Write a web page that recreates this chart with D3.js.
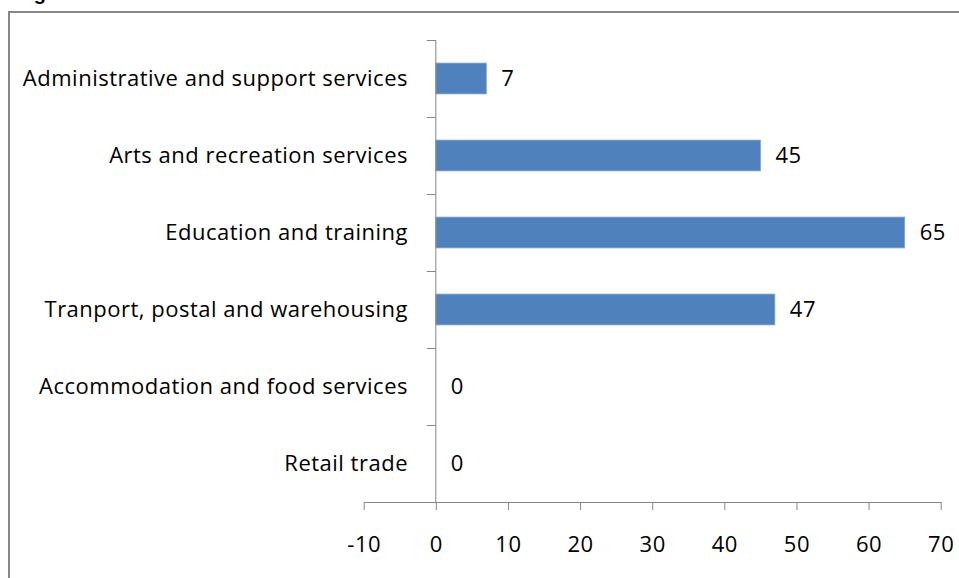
<!DOCTYPE html>
<html>
<head>
<meta charset="utf-8">
<script src="https://cdn.jsdelivr.net/npm/d3@7/dist/d3.min.js"></script>
<style>
  html, body { margin: 0; padding: 0; background: #fff; }
  svg { display: block; }
  .lbl { font-family: "Open Sans", Lato, sans-serif; font-size: 22px; letter-spacing: 0.5px; fill: #000; }
</style>
</head>
<body>
<svg id="chart" width="959" height="578"></svg>
<script>
// Industry categories, top to bottom
const categories = [
  "Administrative and support services",
  "Arts and recreation services",
  "Education and training",
  "Tranport, postal and warehousing",
  "Accommodation and food services",
  "Retail trade"
];
// Values per category
const values = [7, 45, 65, 47, 0, 0];
// Value axis ticks
const xTicks = [-10, 0, 10, 20, 30, 40, 50, 60, 70];

const axisColor = "#868686";
const barColor = "#4F81BD";

const svg = d3.select("#chart");

// Title line above the chart frame (runs off the top edge)
svg.append("text")
  .attr("x", 16).attr("y", 0)
  .attr("font-family", "Liberation Sans, Arial, sans-serif")
  .attr("font-weight", "bold")
  .attr("font-size", 20)
  .attr("fill", "#000")
  .text("Figure");

// Chart frame
svg.append("rect")
  .attr("x", 9).attr("y", 12)
  .attr("width", 980).attr("height", 600)
  .attr("fill", "#fff")
  .attr("stroke", axisColor)
  .attr("stroke-width", 2);

const plot = { left: 363.7, right: 940.7, top: 40, bottom: 502 };

const x = d3.scaleLinear()
  .domain([d3.min(xTicks), d3.max(xTicks)])
  .range([plot.left, plot.right]);

const y = d3.scaleBand()
  .domain(categories)
  .range([plot.top, plot.bottom])
  .paddingInner(0.6)
  .paddingOuter(0.3);

// Category boundaries for the tick marks on the category axis
const yEdge = d3.scaleLinear()
  .domain([0, categories.length])
  .range([plot.top, plot.bottom]);

// Bars
svg.append("g")
  .selectAll("rect")
  .data(values)
  .join("rect")
  .attr("x", d => x(Math.min(0, d)))
  .attr("y", (d, i) => y(categories[i]))
  .attr("width", d => Math.abs(x(d) - x(0)))
  .attr("height", y.bandwidth())
  .attr("fill", barColor)
  .attr("stroke", d => d ? "#7FA1CF" : "none")
  .attr("stroke-width", 0.8);

// Category axis at zero
const catAxis = svg.append("g")
  .attr("transform", `translate(${x(0)},0)`)
  .call(d3.axisLeft(yEdge).tickValues(d3.range(categories.length + 1)).tickSize(9).tickFormat(""));
catAxis.select(".domain").attr("stroke", axisColor).attr("d", `M0,${plot.top}V${plot.bottom}`);
catAxis.selectAll(".tick line").attr("stroke", axisColor);

// Category labels
svg.append("g")
  .selectAll("text")
  .data(categories)
  .join("text")
  .attr("class", "lbl")
  .attr("x", 408)
  .attr("y", d => y(d) + y.bandwidth() / 2)
  .attr("dy", "0.35em")
  .attr("text-anchor", "end")
  .text(d => d);

// Value axis
const valAxis = svg.append("g")
  .attr("transform", `translate(0,${plot.bottom})`)
  .call(d3.axisBottom(x).tickValues(xTicks).tickSize(8).tickSizeOuter(0).tickPadding(26).tickFormat(d => String(d)));
valAxis.select(".domain").attr("stroke", axisColor);
valAxis.selectAll(".tick line").attr("stroke", axisColor);
valAxis.selectAll(".tick text")
  .attr("class", "lbl")
  .attr("font-family", null).attr("font-size", null).attr("fill", null);

// Data labels
svg.append("g")
  .selectAll("text")
  .data(values)
  .join("text")
  .attr("class", "lbl")
  .attr("x", d => x(Math.max(0, d)) + 15)
  .attr("y", (d, i) => y(categories[i]) + y.bandwidth() / 2)
  .attr("dy", "0.35em")
  .text(d => d);
</script>
</body>
</html>
